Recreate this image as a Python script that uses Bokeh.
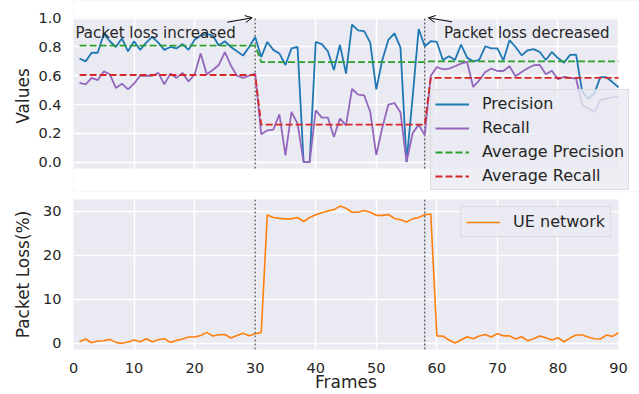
from bokeh.plotting import figure
from bokeh.models import (Range1d, FixedTicker, Span, Label, Arrow, OpenHead,
                          Legend, LegendItem, PrintfTickFormatter)
from bokeh.embed import file_html
from bokeh.resources import INLINE

# ---------------- data ----------------
frames = list(range(1, 91))

precision = [0.72, 0.70, 0.76, 0.76, 0.89, 0.84, 0.80, 0.86, 0.77, 0.84,
             0.78, 0.83, 0.87, 0.83, 0.78, 0.80, 0.79, 0.82, 0.78, 0.85,
             0.88, 0.89, 0.88, 0.81, 0.84, 0.80, 0.77, 0.74, 0.80, 0.87,
             0.73, 0.835, 0.78, 0.755, 0.675, 0.79, 0.80, 0.0, 0.0, 0.835,
             0.82, 0.77, 0.64, 0.815, 0.615, 0.955, 0.915, 0.91, 0.83, 0.505,
             0.71, 0.85, 0.895, 0.795, 0.0, 0.45, 0.925, 0.805, 0.84, 0.835,
             0.71, 0.735, 0.71, 0.816, 0.726, 0.70, 0.71, 0.805, 0.79, 0.79,
             0.707, 0.847, 0.80, 0.742, 0.777, 0.785, 0.765, 0.71, 0.765, 0.723,
             0.69, 0.745, 0.746, 0.49, 0.44, 0.476, 0.59, 0.59, 0.556, 0.52]

recall = [0.55, 0.54, 0.585, 0.57, 0.63, 0.61, 0.515, 0.545, 0.505, 0.545,
          0.60, 0.60, 0.60, 0.62, 0.54, 0.615, 0.585, 0.62, 0.56, 0.61,
          0.755, 0.61, 0.64, 0.675, 0.765, 0.67, 0.60, 0.585, 0.60, 0.615,
          0.193, 0.22, 0.225, 0.332, 0.047, 0.348, 0.267, 0.0, 0.0, 0.36,
          0.309, 0.309, 0.174, 0.302, 0.255, 0.508, 0.469, 0.464, 0.35, 0.048,
          0.24, 0.40, 0.41, 0.345, 0.0, 0.20, 0.26, 0.188, 0.60, 0.66,
          0.645, 0.65, 0.666, 0.684, 0.696, 0.522, 0.568, 0.626, 0.65, 0.633,
          0.633, 0.666, 0.596, 0.626, 0.652, 0.673, 0.675, 0.61, 0.635, 0.575,
          0.593, 0.585, 0.58, 0.397, 0.373, 0.348, 0.432, 0.44, 0.452, 0.455]

avg_x = [1, 30, 31, 58, 59, 90]
avg_precision = [0.81, 0.81, 0.695, 0.695, 0.70, 0.70]
avg_recall = [0.605, 0.605, 0.26, 0.26, 0.585, 0.585]

packet_loss = [0.37, 0.98, 0.14, 0.52, 0.6, 0.9, 0.22, 0.0, 0.3, 0.75,
               0.37, 1.05, 0.37, 0.82, 1.05, 0.22, 0.67, 0.98, 1.43, 1.43,
               1.8, 2.5, 1.66, 1.95, 2.0, 1.2, 1.8, 2.3, 1.73, 2.2,
               2.4, 29.2, 28.6, 28.4, 28.3, 28.3, 28.6, 27.7, 28.6, 29.25,
               29.7, 30.1, 30.4, 31.2, 30.7, 29.8, 29.8, 30.2, 29.8, 29.1,
               29.1, 29.3, 28.4, 28.1, 27.6, 28.3, 28.6, 29.25, 29.4, 1.7,
               1.65, 0.75, 0.07, 0.75, 1.5, 1.05, 1.65, 2.0, 1.43, 2.2,
               1.7, 1.7, 0.98, 1.5, 0.6, 1.05, 1.65, 1.28, 0.75, 1.28,
               0.37, 1.2, 1.88, 1.88, 1.43, 1.05, 0.98, 1.88, 1.58, 2.4]

event_frames = [30, 58]
x_ticks = [0, 10, 20, 30, 40, 50, 60, 70, 80, 90]
y_ticks_top = [0.0, 0.2, 0.4, 0.6, 0.8, 1.0]
y_ticks_bottom = [0, 10, 20, 30]

# ---------------- style ----------------
FONT = "DejaVu Sans"
TXT = "#262626"
BG = "#EAEAF2"
C_PREC, C_REC, C_APREC, C_AREC, C_LOSS = "#1f77b4", "#9467bd", "#2ca02c", "#d62728", "#ff7f0e"

# visible plot area of the top chart and its (larger) drawing frame, so that the
# legend may overflow the grey area the way the reference's legend does
X0, X1 = 0, 90
Y0, Y1 = -0.045, 1.005
FX1 = 90 * 566 / 545          # frame reaches the right edge of the figure
PX = 1.05 / 151               # data units per pixel (top chart)
FY1 = Y1 + 17 * PX            # frame reaches the top edge of the figure
FY0 = Y1 - 174 * PX           # frame ends just below the legend


def style(p):
    p.background_fill_color = BG
    p.border_fill_color = "white"
    p.outline_line_color = None
    for ax in p.axis:
        ax.axis_line_color = None
        ax.major_tick_line_color = None
        ax.minor_tick_line_color = None
        ax.major_label_text_font = FONT
        ax.major_label_text_font_size = "14.5px"
        ax.major_label_text_color = TXT
        ax.axis_label_text_font = FONT
        ax.axis_label_text_font_size = "17px"
        ax.axis_label_text_font_style = "normal"
        ax.axis_label_text_color = TXT
        ax.major_label_standoff = 6
    for g in p.grid:
        g.grid_line_color = "white"
        g.grid_line_width = 1.5
    p.xaxis.ticker = FixedTicker(ticks=x_ticks)


def style_legend(lg):
    lg.label_text_font = FONT
    lg.label_text_font_size = "16px"
    lg.label_text_color = TXT
    lg.glyph_width = 34
    lg.glyph_height = 18
    lg.label_height = 18
    lg.label_standoff = 13
    lg.spacing = 5
    lg.padding = 4
    lg.background_fill_color = BG
    lg.background_fill_alpha = 0.8
    lg.border_line_color = "#cccccc"
    lg.border_line_width = 1


# ---------------- top plot ----------------
p1 = figure(width=639, height=198, x_range=Range1d(X0, FX1), y_range=Range1d(FY0, FY1),
            output_backend="svg", toolbar_location=None,
            min_border_left=73, min_border_right=0, min_border_top=0, min_border_bottom=7)
style(p1)
p1.xaxis.visible = False
p1.yaxis.ticker = FixedTicker(ticks=y_ticks_top)
p1.yaxis.formatter = PrintfTickFormatter(format="%.1f")
p1.yaxis.axis_label = "Values"
p1.yaxis.axis_label_standoff = 2

# white covers outside the visible plot area
p1.quad(left=[X1, X0, X0], right=[FX1, X1, X1], bottom=[FY0, FY0, Y1], top=[FY1, Y0, FY1],
        fill_color="white", line_color=None)
p1.segment(x0=event_frames, x1=event_frames, y0=[Y0] * 2, y1=[Y1] * 2,
           line_color="#5a5a5a", line_width=1.3, line_dash="2 2")

r_p = p1.line(frames, precision, line_color=C_PREC, line_width=1.8)
r_r = p1.line(frames, recall, line_color=C_REC, line_width=1.8)
r_ap = p1.line(avg_x, avg_precision, line_color=C_APREC, line_width=1.8, line_dash="7 3")
r_ar = p1.line(avg_x, avg_recall, line_color=C_AREC, line_width=1.8, line_dash="7 3")

p1.add_layout(Label(x=0.33, y=0.895, text="Packet  loss increased", text_font=FONT,
                    text_font_size="15px", text_color=TXT, text_baseline="alphabetic"))
p1.add_layout(Label(x=61.2, y=0.895, text="Packet  loss decreased", text_font=FONT,
                    text_font_size="15px", text_color=TXT, text_baseline="alphabetic"))
p1.add_layout(Arrow(end=OpenHead(size=7, line_color="black", line_width=1),
                    x_start=25.4, y_start=0.972, x_end=29.5, y_end=1.003,
                    line_color="black", line_width=1))
p1.add_layout(Arrow(end=OpenHead(size=7, line_color="black", line_width=1),
                    x_start=62.5, y_start=0.975, x_end=58.6, y_end=1.003,
                    line_color="black", line_width=1))

leg1 = Legend(items=[LegendItem(label="Precision", renderers=[r_p]),
                     LegendItem(label="Recall", renderers=[r_r]),
                     LegendItem(label="Average Precision", renderers=[r_ap]),
                     LegendItem(label="Average Recall", renderers=[r_ar])],
              location=(357, 1))
style_legend(leg1)
leg1.margin = 0
p1.add_layout(leg1)

# ---------------- bottom plot ----------------
p2 = figure(width=639, height=196, x_range=Range1d(0, 90), y_range=Range1d(-1.4, 32.7),
            output_backend="svg", toolbar_location=None,
            min_border_left=73, min_border_right=21, min_border_top=1, min_border_bottom=45)
style(p2)
for fr in event_frames:
    p2.add_layout(Span(location=fr, dimension="height", line_color="#5a5a5a",
                       line_width=1.3, line_dash="2 2"))
p2.yaxis.ticker = FixedTicker(ticks=y_ticks_bottom)
p2.yaxis.axis_label = "Packet Loss(%)"
p2.yaxis.axis_label_standoff = 7
p2.xaxis.axis_label = "Frames"
p2.xaxis.major_label_standoff = 7
p2.xaxis.axis_label_standoff = -4
r_l = p2.line(frames, packet_loss, line_color=C_LOSS, line_width=1.6)
leg2 = Legend(items=[LegendItem(label="UE network", renderers=[r_l])],
              location="top_right")
style_legend(leg2)
leg2.padding = 5
leg2.margin = 7
p2.add_layout(leg2)

# two independent roots, stacked by the page itself
open("out.html", "w").write(file_html([p1, p2], INLINE))
